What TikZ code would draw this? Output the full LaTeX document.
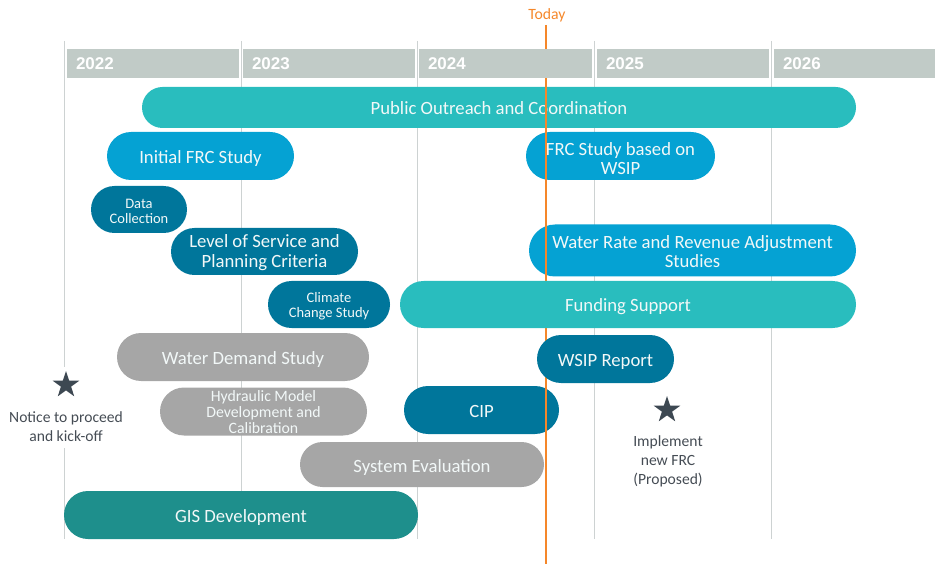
\documentclass[tikz,border=0pt]{standalone}
\usepackage{fontspec}
\setmainfont{Carlito}
\newfontfamily\yearfont{Liberation Sans}
\usetikzlibrary{shapes.geometric}
\definecolor{cteal}{HTML}{29BDBE}
\definecolor{cblue}{HTML}{05A2D3}
\definecolor{cdark}{HTML}{00769B}
\definecolor{cgray}{HTML}{A6A6A6}
\definecolor{cgis}{HTML}{1E8F8C}
\definecolor{chead}{HTML}{C1CBC7}
\definecolor{cgrid}{HTML}{CDD2D2}
\definecolor{corange}{HTML}{F5872A}
\definecolor{cstar}{HTML}{3D4852}
\definecolor{cnote}{HTML}{454C54}
\definecolor{cbartext}{HTML}{F2F8F8}
\tikzset{
  bar/.style={rectangle, inner sep=0pt, text=cbartext, align=center, font=\fontsize{18.7}{19.5}\selectfont},
  oneline/.style={text height=15pt, text depth=0pt},
  bartext/.style={inner sep=0pt, text=cbartext, align=center, font=\fontsize{18.7}{19.5}\selectfont},
  smalltext/.style={bartext, font=\fontsize{14.5}{15.5}\selectfont},
  yearbox/.style={rectangle, fill=chead, minimum height=29, text width=154, inner xsep=9, inner ysep=0pt, align=left, text=white, text height=12.2pt, text depth=0pt, font=\yearfont\bfseries\fontsize{17}{18}\selectfont},
  gridline/.style={draw=cgrid, line width=1pt},
  todayline/.style={draw=corange, line width=2.5pt},
  milestone/.style={star, star points=5, star point ratio=2.6, fill=cstar, inner sep=0pt, minimum size=28},
  note/.style={align=center, text=cnote, font=\fontsize{15.6}{19}\selectfont, inner sep=0pt}
}
\begin{document}
\begin{tikzpicture}[x=1pt,y=-1pt]
\useasboundingbox (0,0) rectangle (935,564);
% grid lines
\coordinate (g1t) at (64,41);   \coordinate (g1a) at (64,367);
\coordinate (g1b) at (64,448);  \coordinate (g1e) at (64,539);
\draw[gridline] (g1t) -- (g1a);
\draw[gridline] (g1b) -- (g1e);
\foreach \gx in {241,417,594,771}{
  \draw[gridline] (\gx,41) -- (\gx,539);
}
% bars (behind today line)
\node[bar, oneline, fill=cteal, minimum width=714, minimum height=41, rounded corners=20.5] (outreach) at (499,107.5) {Public Outreach and Coordination};
\node[bar, oneline, fill=cblue, minimum width=187, minimum height=48, rounded corners=24] (initfrc) at (200.5,156) {Initial FRC Study};
\node[bar, fill=cdark, minimum width=96, minimum height=47, rounded corners=23.5] (data) at (139,209.5) {};
\node[smalltext] (data-text) at ([yshift=-2pt]data.center) {Data\\Collection};
\node[bar, fill=cdark, minimum width=187, minimum height=47, rounded corners=23.5] (los) at (264.5,251.5) {};
\node[bartext] (los-text) at ([yshift=-1pt]los.center) {Level of Service and\\Planning Criteria};
\node[bar, fill=cdark, minimum width=122, minimum height=47, rounded corners=23.5] (climate) at (329,304.5) {};
\node[smalltext] (climate-text) at ([yshift=-1.5pt]climate.center) {Climate\\Change Study};
\node[bar, fill=cblue, minimum width=189, minimum height=48, rounded corners=24] (frcwsip) at (620.5,156) {};
\node[bartext] (frcwsip-text) at ([yshift=-2.5pt]frcwsip.center) {FRC Study based on\\WSIP};
\node[bar, fill=cblue, minimum width=327, minimum height=52, rounded corners=26] (rate) at (692.5,250.5) {};
\node[bartext] (rate-text) at ([yshift=-1pt]rate.center) {Water Rate and Revenue Adjustment\\Studies};
\node[bar, oneline, fill=cgray, minimum width=252, minimum height=48, rounded corners=24] (demand) at (243,357) {Water Demand Study};
\node[bar, fill=cgray, minimum width=207, minimum height=48, rounded corners=24] (hydraulic) at (263.5,411.5) {};
\node[bartext, font=\fontsize{15.8}{16}\selectfont] (hydraulic-text) at ([yshift=-1pt]hydraulic.center) {Hydraulic Model\\Development and\\Calibration};
\node[bar, oneline, fill=cdark, minimum width=155, minimum height=48, rounded corners=24] (cip) at (481.5,410) {CIP};
\node[bar, oneline, fill=cgray, minimum width=244, minimum height=45, rounded corners=22.5] (syseval) at (422,464.5) {System Evaluation};
\node[bar, oneline, fill=cgis, minimum width=354, minimum height=48, rounded corners=24] (gis) at (241,515) {GIS Development};
% today line
\node[text=corange, font=\fontsize{15.7}{16}\selectfont, inner sep=0pt] (today) at (547,15.5) {Today};
\coordinate (todaytop) at (546,25);
\coordinate (todaybot) at (546,564);
\draw[todayline] (todaytop) -- (todaybot);
% year headers
\node[yearbox] (y2022) at (153,63.5) {2022};
\node[yearbox] (y2023) at (329,63.5) {2023};
\node[yearbox, text width=155] (y2024) at (505.5,63.5) {2024};
\node[yearbox] (y2025) at (683,63.5) {2025};
\node[yearbox] (y2026) at (860,63.5) {2026};
% bars in front of today line
\node[bar, oneline, fill=cteal, minimum width=456, minimum height=47, rounded corners=23.5] (funding) at (628,304.5) {Funding Support};
\node[bar, oneline, fill=cdark, minimum width=137, minimum height=48, rounded corners=24] (wsip) at (605.5,359) {WSIP Report};
% milestones
\node[milestone] (star1) at (66,385) {};
\node[note] (note1) at (66,426.5) {Notice to proceed\\and kick-off};
\node[milestone] (star2) at (667,410) {};
\node[note] (note2) at (668,461) {Implement\\new FRC\\(Proposed)};
\end{tikzpicture}
\end{document}
